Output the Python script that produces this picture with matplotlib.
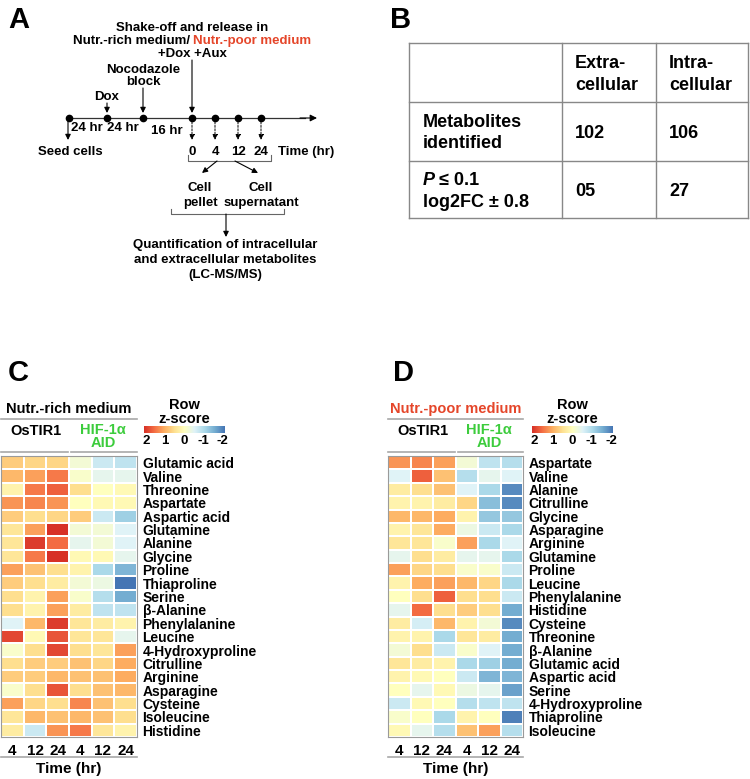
import numpy as np
import matplotlib
matplotlib.use("Agg")
import matplotlib.pyplot as plt
from matplotlib.colors import LinearSegmentedColormap

plt.rcParams['font.family'] = ['Liberation Sans', 'DejaVu Sans']
plt.rcParams['font.weight'] = 'bold'

# ---- data ----
time_labels = ["4", "12", "24", "4", "12", "24"]

rich_labels = ["Glutamic acid", "Valine", "Threonine", "Aspartate", "Aspartic acid",
               "Glutamine", "Alanine", "Glycine", "Proline", "Thiaproline", "Serine",
               "β-Alanine", "Phenylalanine", "Leucine", "4-Hydroxyproline", "Citrulline",
               "Arginine", "Asparagine", "Cysteine", "Isoleucine", "Histidine"]
rich_values = [
    [0.7, 0.6, 0.6, -0.2, -0.7, -0.8],
    [0.9, 1.1, 1.4, -0.1, -0.4, -0.4],
    [0.2, 1.4, 1.6, 0.5, 0.0, 0.1],
    [1.2, 1.3, 1.2, 0.0, 0.1, 0.1],
    [0.7, 0.5, 0.6, 0.7, -0.7, -1.1],
    [0.4, 1.1, 2.0, -0.2, -0.2, -0.5],
    [0.4, 1.9, 1.5, -0.4, -0.2, -0.5],
    [0.4, 1.4, 2.0, 0.1, 0.1, -0.4],
    [1.1, 0.8, 0.5, 0.2, -1.0, -1.4],
    [0.7, 0.5, 0.3, -0.2, -0.3, -2.0],
    [0.5, 0.2, 1.1, -0.1, -0.9, -1.5],
    [0.5, 0.2, 1.1, 0.3, -0.8, -0.8],
    [-0.5, 0.9, 1.9, 0.4, 0.3, 0.2],
    [1.8, 0.1, 1.7, 0.4, 0.4, -0.4],
    [-0.1, 0.5, 1.8, 0.5, 0.4, 1.1],
    [0.5, 0.7, 0.7, 0.8, 0.6, 1.0],
    [0.7, 0.7, 0.9, 0.8, 0.8, 1.0],
    [-0.1, 0.5, 1.7, 0.5, 0.8, 0.9],
    [1.1, 0.6, 0.5, 1.3, 0.8, 0.5],
    [0.4, 0.9, 0.8, 0.9, 0.8, 0.5],
    [0.3, -0.7, 1.2, 1.4, 0.4, 0.2],
]

poor_labels = ["Aspartate", "Valine", "Alanine", "Citrulline", "Glycine", "Asparagine",
               "Arginine", "Glutamine", "Proline", "Leucine", "Phenylalanine", "Histidine",
               "Cysteine", "Threonine", "β-Alanine", "Glutamic acid", "Aspartic acid",
               "Serine", "4-Hydroxyproline", "Thiaproline", "Isoleucine"]
poor_values = [
    [1.2, 1.3, 1.1, -0.2, -0.8, -0.9],
    [-0.5, 1.6, 0.8, -0.9, -0.4, -0.5],
    [0.3, 0.5, 0.8, -0.5, -1.0, -1.8],
    [0.2, 0.2, 0.3, 0.6, -1.3, -1.8],
    [0.9, 0.9, 1.0, 0.2, -1.2, -1.2],
    [0.2, 0.4, 1.0, -0.3, -0.7, -1.0],
    [0.4, 0.4, -0.1, 1.1, -1.0, -0.5],
    [-0.4, 0.5, 0.3, -0.4, -0.4, -1.0],
    [1.1, 0.6, 0.5, -0.1, -0.1, -0.7],
    [0.2, 1.0, 1.1, 0.9, 0.6, -1.0],
    [0.0, 0.5, 1.6, 0.5, 0.5, -0.7],
    [-0.4, 1.5, 0.5, 0.7, 0.5, -1.5],
    [0.3, -0.6, 0.9, 0.2, -0.2, -1.8],
    [0.2, 0.2, -1.0, 0.4, 0.3, -1.5],
    [-0.2, 0.5, -0.7, -0.1, -0.5, -1.5],
    [0.4, 0.3, 0.2, -1.0, -1.1, -1.5],
    [0.2, 0.1, 0.0, -0.7, -1.4, -1.4],
    [0.0, -0.4, 0.1, -0.3, -0.4, -1.6],
    [-0.7, 0.1, 0.0, -0.9, -0.8, -0.8],
    [-0.1, 0.0, -1.0, 0.2, 0.0, -1.9],
    [0.1, -0.4, -0.9, 0.8, 1.1, -0.9],
]

cbar_ticks = ["2", "1", "0", "-1", "-2"]

extra_vals = ["102", "05"]
intra_vals = ["106", "27"]

RED = "#e5462a"
GREEN = "#3ccc3c"
GRAY = "#a8a8a8"

cmap = LinearSegmentedColormap.from_list(
    "rdylbu", ["#4575b4", "#74add1", "#abd9e9", "#e0f3f8", "#ffffbf",
               "#fee090", "#fdae61", "#f46d43", "#d73027"])

W, H = 750, 779
fig = plt.figure(figsize=(7.5, 7.79), dpi=100)


def box(x0, y0, x1, y1):
    return [x0 / W, 1 - y1 / H, (x1 - x0) / W, (y1 - y0) / H]


bg = fig.add_axes([0, 0, 1, 1])
bg.set_xlim(0, W)
bg.set_ylim(H, 0)
bg.axis('off')


def txt(x, y, s, size=9.5, ha='center', color='black', **kw):
    bg.text(x, y, s, fontsize=size, ha=ha, va='center', color=color, **kw)


def arrow(x0, y0, x1, y1, ls='-', lw=0.8, color='black', ms=8):
    bg.annotate("", xy=(x1, y1), xytext=(x0, y0),
                arrowprops=dict(arrowstyle='-|>', color=color, lw=lw, linestyle=ls,
                                mutation_scale=ms, shrinkA=0, shrinkB=0))


# ---- panel letters ----
for letter, x, y in [("A", 8, 20), ("B", 390, 20), ("C", 8, 373), ("D", 393, 373)]:
    txt(x, y, letter, size=21, ha='left')

# ---- panel A ----
txt(192, 28, "Shake-off and release in")
txt(190, 41, "Nutr.-rich medium/", ha='right')
txt(193, 41, "Nutr.-poor medium", ha='left', color=RED)
txt(192, 54, "+Dox +Aux")
txt(143, 70, "Nocodazole")
txt(143, 82, "block")
txt(107, 97, "Dox")

bg.plot([69, 305], [118, 118], color='#333333', lw=0.9)
arrow(300, 118, 317, 118, ms=10)
dots_x = [69, 107, 143, 192, 215, 238, 261]
bg.plot(dots_x, [118] * len(dots_x), 'o', color='black', ms=4.5, ls='none')

arrow(107, 103, 107, 113)
arrow(143, 88, 143, 113)
arrow(192, 60, 192, 113)
arrow(68, 119, 68, 140)
for x, lab in zip([192, 215, 238, 261], ["0", "4", "12", "24"]):
    arrow(x, 122, x, 140, ls=(0, (2, 1.5)), lw=0.7)
    txt(x, 152, lab)
txt(87, 128, "24 hr")
txt(123, 128, "24 hr")
txt(167, 131, "16 hr")
txt(70, 152, "Seed cells")
txt(278, 152, "Time (hr)", ha='left')

bg.plot([188, 188, 271, 271], [155, 161, 161, 155], color='#666666', lw=0.8)
arrow(217, 161, 202, 173)
arrow(235, 161, 258, 173)
txt(200, 188, "Cell")
txt(200, 203, "pellet")
txt(261, 188, "Cell")
txt(261, 203, "supernatant")
bg.plot([171, 171, 284, 284], [209, 214, 214, 209], color='#666666', lw=0.8)
arrow(226, 214, 226, 237)
txt(225, 245, "Quantification of intracellular")
txt(225, 260, "and extracellular metabolites")
txt(225, 275, "(LC-MS/MS)")

# ---- panel B table ----
tx = [409, 562, 656, 748]
ty = [43, 102, 161, 218]
for y in ty:
    bg.plot([tx[0], tx[-1]], [y, y], color='#888888', lw=1)
for x in tx:
    bg.plot([x, x], [ty[0], ty[-1]], color='#888888', lw=1)
tfs = 13
txt(575, 63, "Extra-", size=tfs, ha='left')
txt(575, 85, "cellular", size=tfs, ha='left')
txt(669, 63, "Intra-", size=tfs, ha='left')
txt(669, 85, "cellular", size=tfs, ha='left')
txt(423, 122, "Metabolites", size=tfs, ha='left')
txt(423, 143, "identified", size=tfs, ha='left')
txt(423, 180, "P", size=tfs, ha='left', style='italic')
txt(439, 180, "≤ 0.1", size=tfs, ha='left')
txt(423, 202, "log2FC ± 0.8", size=tfs, ha='left')
for i, y in enumerate([133, 191]):
    txt(575, y, extra_vals[i], size=tfs, ha='left')
    txt(669, y, intra_vals[i], size=tfs, ha='left')


# ---- heatmaps ----
def heatmap(x0, x1, values, labels, medium, mcolor, cb_x0, cb_x1):
    ax = fig.add_axes(box(x0, 456, x1, 737))
    data = np.array(values)
    ax.pcolormesh(data, cmap=cmap, vmin=-2, vmax=2, edgecolors='white', linewidth=0.3)
    ax.set_xlim(0, data.shape[1])
    ax.set_ylim(data.shape[0], 0)
    ax.yaxis.tick_right()
    ax.set_yticks(np.arange(len(labels)) + 0.5, labels=labels, fontsize=10, fontweight='bold')
    ax.set_xticks(np.arange(len(time_labels)) + 0.5, labels=time_labels, fontsize=11,
                  fontweight='bold')
    ax.tick_params(axis='y', length=0, pad=4)
    ax.tick_params(axis='x', length=0, pad=5)
    for sp in ax.spines.values():
        sp.set_color('#9a9a9a')
        sp.set_linewidth(0.8)

    mid = (x0 + x1) / 2
    half = x0 + (x1 - x0) / 2
    txt(mid, 409, medium, size=10.5, color=mcolor)
    bg.plot([x0, x1], [419, 419], color=GRAY, lw=1.2)
    txt(x0 + (x1 - x0) * 0.26, 431, "OsTIR1", size=10.5)
    txt(x0 + (x1 - x0) * 0.75, 430, "HIF-1α", size=10.5, color=GREEN)
    txt(x0 + (x1 - x0) * 0.75, 443, "AID", size=10.5, color=GREEN)
    bg.plot([x0, half - 1], [452, 452], color=GRAY, lw=1.2)
    bg.plot([half + 2, x1], [452, 452], color=GRAY, lw=1.2)

    bg.plot([x0, x1], [757, 757], color=GRAY, lw=1.2)
    txt(mid, 769, "Time (hr)", size=11)

    cb = fig.add_axes(box(cb_x0, 426, cb_x1, 433))
    cb.imshow(np.linspace(2, -2, 256)[None, :], cmap=cmap, vmin=-2, vmax=2, aspect='auto')
    cb.axis('off')
    cmid = (cb_x0 + cb_x1) / 2
    txt(cmid, 405, "Row", size=10.5)
    txt(cmid, 419, "z-score", size=10.5)
    for lab, x in zip(cbar_ticks, np.linspace(cb_x0 + 2, cb_x1 - 2, len(cbar_ticks))):
        txt(x, 441, lab, size=9.5)


heatmap(1, 137, rich_values, rich_labels, "Nutr.-rich medium", 'black', 144, 224)
heatmap(388, 523, poor_values, poor_labels, "Nutr.-poor medium", RED, 532, 613)

fig.savefig("out.png", dpi=100)
